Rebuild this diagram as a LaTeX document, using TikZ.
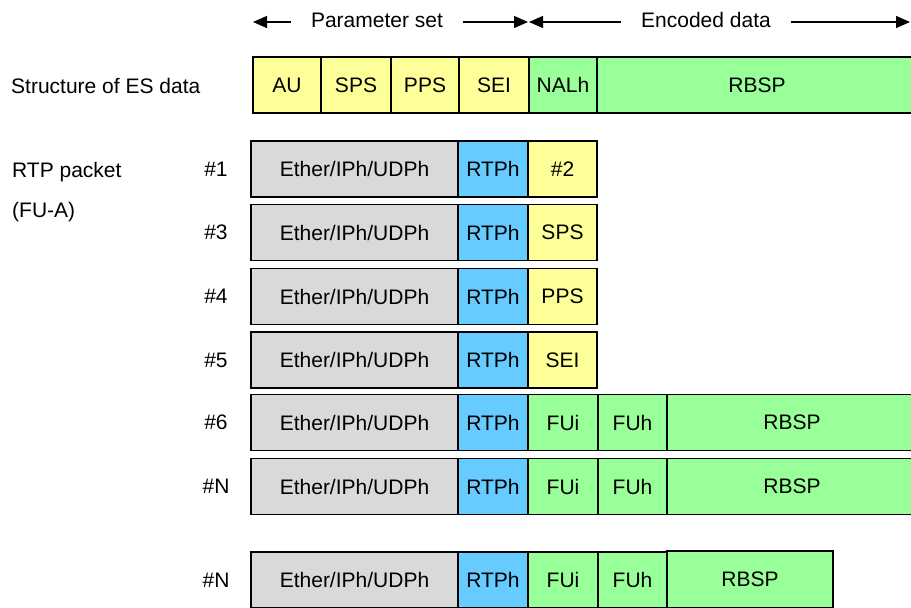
\documentclass[tikz,border=0pt]{standalone}
\usepackage{fontspec}
\setmainfont{Liberation Sans}
\usetikzlibrary{arrows.meta,positioning}
\definecolor{psyellow}{RGB}{255,255,153}
\definecolor{datagreen}{RGB}{153,255,153}
\definecolor{rtpblue}{RGB}{102,204,255}
\definecolor{hdrgrey}{RGB}{217,217,217}
\tikzset{
	field/.style={
		rectangle,
		draw=black,
		line width=1.6pt,
		minimum height=56pt,
		inner sep=0pt,
		outer sep=0pt,
	},
	paramF/.style={field,fill=psyellow},
	dataF/.style={field,fill=datagreen},
	rtpF/.style={field,fill=rtpblue,minimum width=70pt},
	hdrF/.style={field,fill=hdrgrey,minimum width=207pt,anchor=west},
	spanarrow/.style={line width=1.3pt,-{Triangle[length=14pt,width=12pt]}},
	spantext/.style={inner ysep=0pt,inner xsep=20pt,outer sep=0pt},
	caption/.style={anchor=west,inner sep=0pt},
	pktno/.style={inner sep=0pt},
}

\begin{document}
\begin{tikzpicture}[x=1pt,y=-1pt,node distance=0pt,font=\fontsize{21}{25}\selectfont]
	\useasboundingbox (0,0) rectangle (911,608);

	% ES data
	\node [caption] (esname) at (11,86) {Structure of ES data};
	\node [paramF,minimum width=68pt,anchor=west] (au) at (253,85) {AU};
	\node [paramF,minimum width=70pt] (sps) [right=of au] {SPS};
	\node [paramF,minimum width=68pt] (pps) [right=of sps] {PPS};
	\node [paramF,minimum width=70pt] (sei) [right=of pps] {SEI};
	\node [dataF,minimum width=68pt] (nalh) [right=of sei] {NALh};
	\node [dataF,minimum width=320pt,text width=314pt,align=center] (rbsp) [right=of nalh] {RBSP};

	% spans above the ES data
	\coordinate (psL) at (253,22);
	\coordinate (psR) at (528,22);
	\coordinate (edL) at (529,22);
	\coordinate (edR) at (910,22);
	\node [spantext] (ps) at (377,20) {Parameter set};
	\node [spantext] (ed) at (706,20) {Encoded data};
	\draw [spanarrow] (ps.west |- psL) -- (psL);
	\draw [spanarrow] (ps.east |- psR) -- (psR);
	\draw [spanarrow] (ed.west |- edL) -- (edL);
	\draw [spanarrow] (ed.east |- edR) -- (edR);

	% RTP packets
	\node [caption] (rtpname) at (12,172) {RTP packet};
	\node [caption] (fua) at (12,212) {(FU-A)};

	\node [pktno] (no1) at (216,169) {\#1};
	\node [hdrF] (eth1) at (251,169) {Ether/IPh/UDPh};
	\node [rtpF] (rtp1) [right=of eth1] {RTPh};
	\node [paramF,minimum width=69pt] (pay1) [right=of rtp1] {\#2};

	\node [pktno] (no3) at (216,232.5) {\#3};
	\node [hdrF] (eth3) at (251,232.5) {Ether/IPh/UDPh};
	\node [rtpF] (rtp3) [right=of eth3] {RTPh};
	\node [paramF,minimum width=69pt] (pay3) [right=of rtp3] {SPS};

	\node [pktno] (no4) at (216,296.5) {\#4};
	\node [hdrF] (eth4) at (251,296.5) {Ether/IPh/UDPh};
	\node [rtpF] (rtp4) [right=of eth4] {RTPh};
	\node [paramF,minimum width=69pt] (pay4) [right=of rtp4] {PPS};

	\node [pktno] (no5) at (216,360) {\#5};
	\node [hdrF] (eth5) at (251,360) {Ether/IPh/UDPh};
	\node [rtpF] (rtp5) [right=of eth5] {RTPh};
	\node [paramF,minimum width=69pt] (pay5) [right=of rtp5] {SEI};

	\node [pktno] (no6) at (216,422.5) {\#6};
	\node [hdrF] (eth6) at (251,422.5) {Ether/IPh/UDPh};
	\node [rtpF] (rtp6) [right=of eth6] {RTPh};
	\node [dataF,minimum width=70pt] (fui6) [right=of rtp6] {FUi};
	\node [dataF,minimum width=69pt] (fuh6) [right=of fui6] {FUh};
	\node [dataF,minimum width=250pt,text width=244pt,align=center] (rbsp6) [right=of fuh6] {RBSP};

	\node [pktno] (noN) at (216,486.5) {\#N};
	\node [hdrF] (ethN) at (251,486.5) {Ether/IPh/UDPh};
	\node [rtpF] (rtpN) [right=of ethN] {RTPh};
	\node [dataF,minimum width=70pt] (fuiN) [right=of rtpN] {FUi};
	\node [dataF,minimum width=69pt] (fuhN) [right=of fuiN] {FUh};
	\node [dataF,minimum width=250pt,text width=244pt,align=center] (rbspN) [right=of fuhN] {RBSP};

	% last fragment, shorter payload
	\node [pktno] (noL) at (216,580) {\#N};
	\node [hdrF] (ethL) at (251,580) {Ether/IPh/UDPh};
	\node [rtpF] (rtpL) [right=of ethL] {RTPh};
	\node [dataF,minimum width=70pt] (fuiL) [right=of rtpL] {FUi};
	\node [dataF,minimum width=69pt] (fuhL) [right=of fuiL] {FUh};
	\node [dataF,minimum width=166pt,minimum height=57pt,anchor=north west] (rbspL) at ([yshift=1pt]fuhL.north east) {RBSP};
\end{tikzpicture}
\end{document}
